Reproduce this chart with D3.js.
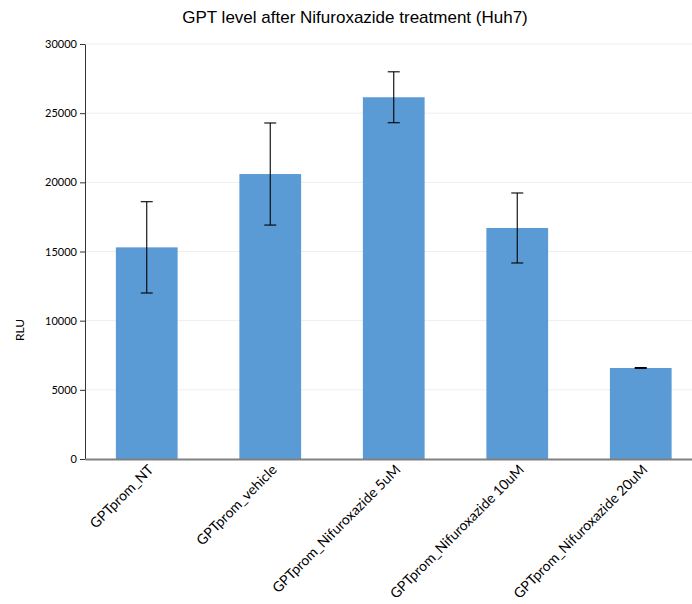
<!DOCTYPE html>
<html><head><meta charset="utf-8">
<script src="https://cdn.jsdelivr.net/npm/d3@7"></script>
<style>body{margin:0;background:#fff}svg{display:block}</style>
</head><body><svg id="c" width="692" height="604"></svg>
<script>
const categories = ["GPTprom_NT","GPTprom_vehicle","GPTprom_Nifuroxazide 5uM","GPTprom_Nifuroxazide 10uM","GPTprom_Nifuroxazide 20uM"];
const values = [15300, 20600, 26150, 16700, 6580];
const errors = [3300, 3690, 1840, 2530, 30];
const yTicks = [0,5000,10000,15000,20000,25000,30000];
const title = "GPT level after Nifuroxazide treatment (Huh7)";
const yLabel = "RLU";

const svg = d3.select("#c");
const mLeft = 85, mRight = 702.5, mTop = 44, mBottom = 459;
const x = d3.scaleBand().domain(categories).range([mLeft, mRight]).paddingInner(0.5).paddingOuter(0.25);
const y = d3.scaleLinear().domain([0, 30000]).range([mBottom, mTop]);

// grid
svg.append("g").selectAll("line").data(yTicks.slice(1)).join("line")
  .attr("x1", mLeft).attr("x2", 692).attr("y1", d=>y(d)).attr("y2", d=>y(d))
  .attr("stroke", "#eeeeee").attr("stroke-width", 1);

// bars
svg.append("g").selectAll("rect").data(values).join("rect")
  .attr("x", (d,i)=>x(categories[i])).attr("width", x.bandwidth())
  .attr("y", d=>y(d)).attr("height", d=>mBottom - y(d))
  .attr("fill", "#5b9bd5");

// error bars
const eg = svg.append("g").attr("stroke", "#000").attr("stroke-width", 1.1);
values.forEach((v,i)=>{
  const cx = x(categories[i]) + x.bandwidth()/2;
  eg.append("line").attr("x1",cx).attr("x2",cx).attr("y1",y(v+errors[i])).attr("y2",y(v-errors[i]));
  eg.append("line").attr("x1",cx-6).attr("x2",cx+6).attr("y1",y(v+errors[i])).attr("y2",y(v+errors[i]));
  eg.append("line").attr("x1",cx-6).attr("x2",cx+6).attr("y1",y(v-errors[i])).attr("y2",y(v-errors[i]));
});

// y axis
const ya = svg.append("g").attr("transform", `translate(${mLeft},0)`)
  .call(d3.axisLeft(y).tickValues(yTicks).tickSize(5).tickSizeOuter(0).tickFormat(d3.format("d")));
ya.select(".domain").attr("stroke", "#333");
ya.selectAll(".tick line").attr("stroke", "#333");
ya.selectAll("text").attr("font-family", "Lato, sans-serif").attr("font-size", 11).attr("fill", "#000");

// x axis
const xa = svg.append("g").attr("transform", `translate(0,${mBottom})`)
  .call(d3.axisBottom(x).tickSize(0).tickSizeOuter(0));
xa.select(".domain").attr("stroke", "#808080").attr("stroke-width", 2);
xa.selectAll("text").attr("font-family", "Lato, sans-serif").attr("font-size", 14).attr("fill", "#000")
  .attr("text-anchor", "end").attr("dy", "0.35em")
  .attr("transform", "translate(2,6) rotate(-45)");

// title
svg.append("text").attr("x", 355).attr("y", 23).attr("text-anchor", "middle")
  .attr("font-family", "'Liberation Sans', Arial, sans-serif").attr("font-size", 17).attr("fill", "#000")
  .text(title);

// y label
svg.append("text").attr("transform", "translate(24,330) rotate(-90)").attr("text-anchor", "middle")
  .attr("font-family", "Lato, sans-serif").attr("font-size", 12).attr("fill", "#000").text(yLabel);
</script></body></html>
